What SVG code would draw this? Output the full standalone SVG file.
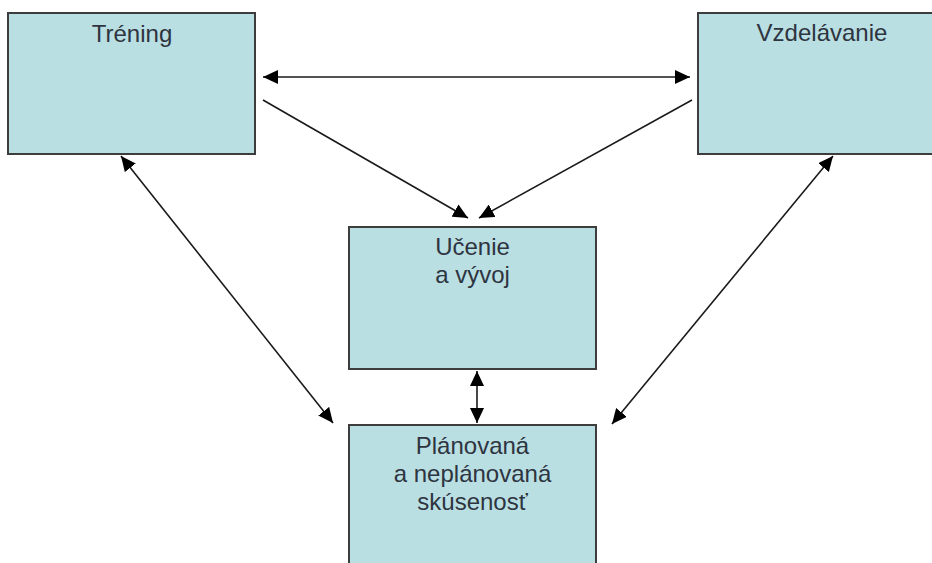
<svg xmlns="http://www.w3.org/2000/svg" width="932" height="563" viewBox="0 0 932 563">
  <style>
    .box { fill: #b9dfe3; stroke: #3d3d3d; stroke-width: 2; }
    .label { font-family: "Liberation Sans", Arial, sans-serif; font-size: 24px; fill: #2e3440; text-anchor: middle; }
    .conn { stroke: #1a1a1a; stroke-width: 1.6; fill: none; }
  </style>
  <defs>
    <marker id="arrow" markerUnits="userSpaceOnUse" markerWidth="16" markerHeight="14" refX="15" refY="7" orient="auto-start-reverse">
      <path d="M0,0 L15,7 L0,14 Z" fill="#000"/>
    </marker>
  </defs>
  <rect width="932" height="563" fill="#ffffff"/>

  <g id="trening">
    <rect class="box" x="8" y="13" width="247" height="141"/>
    <text class="label" x="132" y="42">Tréning</text>
  </g>

  <g id="vzdelavanie">
    <rect class="box" x="698" y="13" width="240" height="141"/>
    <text class="label" x="822" y="41">Vzdelávanie</text>
  </g>

  <g id="ucenie">
    <rect class="box" x="349" y="227" width="247" height="142"/>
    <text class="label" x="472.5" y="255">Učenie</text>
    <text class="label" x="472.5" y="283">a vývoj</text>
  </g>

  <g id="skusenost">
    <rect class="box" x="349" y="425" width="247" height="150"/>
    <text class="label" x="472.5" y="454">Plánovaná</text>
    <text class="label" x="472.5" y="482">a neplánovaná</text>
    <text class="label" x="472.5" y="510">skúsenosť</text>
  </g>

  <g id="connectors">
    <line class="conn" x1="263" y1="77" x2="690" y2="77" marker-start="url(#arrow)" marker-end="url(#arrow)"/>
    <line class="conn" x1="263" y1="100" x2="468" y2="218" marker-end="url(#arrow)"/>
    <line class="conn" x1="692" y1="100" x2="479" y2="218" marker-end="url(#arrow)"/>
    <line class="conn" x1="121" y1="156" x2="333" y2="423" marker-start="url(#arrow)" marker-end="url(#arrow)"/>
    <line class="conn" x1="833" y1="156" x2="612" y2="424" marker-start="url(#arrow)" marker-end="url(#arrow)"/>
    <line class="conn" x1="477" y1="371" x2="477" y2="423" marker-start="url(#arrow)" marker-end="url(#arrow)"/>
  </g>
</svg>
